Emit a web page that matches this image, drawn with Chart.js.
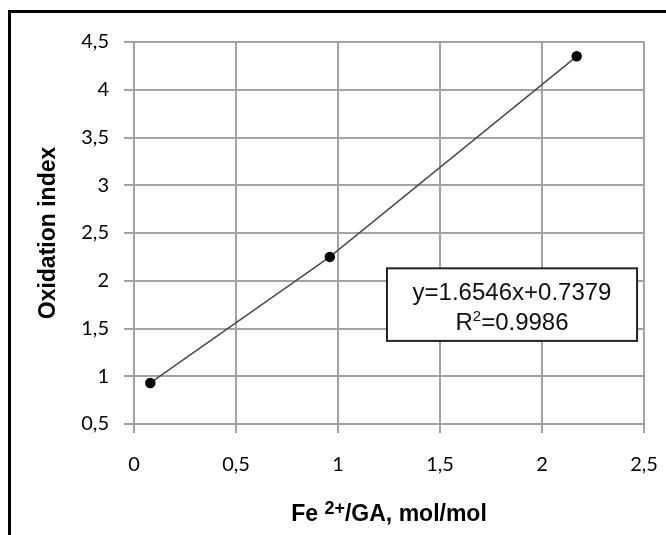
<!DOCTYPE html>
<html>
<head>
<meta charset="utf-8">
<script src="https://cdn.jsdelivr.net/npm/chart.js@4.4.0/dist/chart.umd.min.js"></script>
<style>
  html, body { margin: 0; padding: 0; background: #fff; }
  #wrap { width: 666px; height: 535px; }
</style>
</head>
<body>
<div id="wrap"><canvas id="oxChart" width="666" height="535"></canvas></div>
<script>
// data
const feRatio = [0.08, 0.96, 2.17];
const oxIndex = [0.93, 2.25, 4.35];
const xTicks = [0, 0.5, 1, 1.5, 2, 2.5];
const yTicks = [0.5, 1, 1.5, 2, 2.5, 3, 3.5, 4, 4.5];
const equationText = "y=1.6546x+0.7379";
const r2Text = ["R", "2", "=0.9986"];

const gridColor = "#a3a3a3";

function commaLabel(v) {
  return String(v).replace(".", ",");
}

// frame, x title and equation box
const extrasPlugin = {
  id: "extras",
  afterDraw(chart) {
    const ctx = chart.ctx;
    const xs = chart.scales.x;
    const ys = chart.scales.y;
    ctx.save();

    // outer frame (cropped at right and bottom)
    ctx.strokeStyle = "#000";
    ctx.lineWidth = 3;
    ctx.beginPath();
    ctx.moveTo(9.5, 535);
    ctx.lineTo(9.5, 11.5);
    ctx.lineTo(666, 11.5);
    ctx.stroke();

    // x axis title with superscript
    const cx = (chart.chartArea.left + chart.chartArea.right) / 2;
    const base = 521;
    const bigFont = "bold 23px 'Liberation Sans', Arial, sans-serif";
    const supFont = "bold 18px 'Liberation Sans', Arial, sans-serif";
    const p1 = "Fe ", p2 = "2+", p3 = "/GA, mol/mol";
    ctx.font = bigFont;
    const w1 = ctx.measureText(p1).width;
    const w3 = ctx.measureText(p3).width;
    ctx.font = supFont;
    const w2 = ctx.measureText(p2).width;
    let x0 = cx - (w1 + w2 + w3) / 2;
    ctx.fillStyle = "#000";
    ctx.textAlign = "left";
    ctx.textBaseline = "alphabetic";
    ctx.font = bigFont;
    ctx.fillText(p1, x0, base);
    ctx.font = supFont;
    ctx.fillText(p2, x0 + w1, base - 7);
    ctx.font = bigFont;
    ctx.fillText(p3, x0 + w1 + w2, base);

    // equation box, placed in data units
    const bx1 = xs.getPixelForValue(1.24);
    const bx2 = xs.getPixelForValue(2.466);
    const by1 = ys.getPixelForValue(2.13);
    const by2 = ys.getPixelForValue(1.37);
    ctx.fillStyle = "#fff";
    ctx.fillRect(bx1, by1, bx2 - bx1, by2 - by1);
    ctx.strokeStyle = "#222";
    ctx.lineWidth = 2;
    ctx.strokeRect(bx1, by1, bx2 - bx1, by2 - by1);

    const bcx = (bx1 + bx2) / 2;
    const eqFont = "24px 'Liberation Sans', Arial, sans-serif";
    ctx.fillStyle = "#111";
    ctx.font = eqFont;
    ctx.textAlign = "center";
    ctx.fillText(equationText, bcx, by1 + 32);

    ctx.textAlign = "left";
    const rw0 = ctx.measureText(r2Text[0]).width;
    const rw2 = ctx.measureText(r2Text[2]).width;
    ctx.font = "15px 'Liberation Sans', Arial, sans-serif";
    const rw1 = ctx.measureText(r2Text[1]).width;
    let rx = bcx - (rw0 + rw1 + rw2) / 2;
    ctx.font = eqFont;
    ctx.fillText(r2Text[0], rx, by1 + 62);
    ctx.font = "15px 'Liberation Sans', Arial, sans-serif";
    ctx.fillText(r2Text[1], rx + rw0, by1 + 53);
    ctx.font = eqFont;
    ctx.fillText(r2Text[2], rx + rw0 + rw1, by1 + 62);

    ctx.restore();
  }
};

const ctx = document.getElementById("oxChart").getContext("2d");
const oxChart = new Chart(ctx, {
  type: "scatter",
  data: {
    datasets: [
      {
        label: "Oxidation index",
        data: feRatio.map((x, i) => ({ x: x, y: oxIndex[i] })),
        pointRadius: 4.5,
        pointBackgroundColor: "#000",
        pointBorderColor: "#000",
        showLine: true,
        borderColor: "#4a4a4a",
        borderWidth: 1.5
      }
    ]
  },
  options: {
    responsive: false,
    animation: false,
    layout: { padding: { left: 0, right: 22, top: 42, bottom: 0 } },
    plugins: {
      legend: { display: false },
      tooltip: { enabled: false }
    },
    scales: {
      x: {
        type: "linear",
        min: 0,
        max: 2.5,
        afterBuildTicks: (scale) => { scale.ticks = xTicks.map(v => ({ value: v })); },
        afterFit: (scale) => {
          scale.height = 111;
          scale.paddingLeft = 0;
          scale.paddingRight = 0;
        },
        ticks: {
          callback: commaLabel,
          color: "#000",
          padding: 20,
          maxRotation: 0,
          font: { family: "Lato", size: 20 }
        },
        grid: { color: gridColor, lineWidth: 2, tickLength: 9 },
        border: { color: gridColor, width: 2 }
      },
      y: {
        type: "linear",
        min: 0.5,
        max: 4.5,
        afterBuildTicks: (scale) => { scale.ticks = yTicks.map(v => ({ value: v })); },
        afterFit: (scale) => {
          scale.width = 134;
          scale.paddingTop = 0;
          scale.paddingBottom = 0;
        },
        ticks: {
          callback: commaLabel,
          color: "#000",
          padding: 15,
          font: { family: "Lato", size: 20 }
        },
        grid: { color: gridColor, lineWidth: 2, tickLength: 10 },
        border: { color: gridColor, width: 2 },
        title: {
          display: true,
          text: "Oxidation index",
          color: "#000",
          padding: { top: 35, bottom: 0 },
          font: { family: "'Liberation Sans', Arial, sans-serif", size: 23, weight: "bold" }
        }
      }
    }
  },
  plugins: [extrasPlugin]
});
</script>
</body>
</html>
